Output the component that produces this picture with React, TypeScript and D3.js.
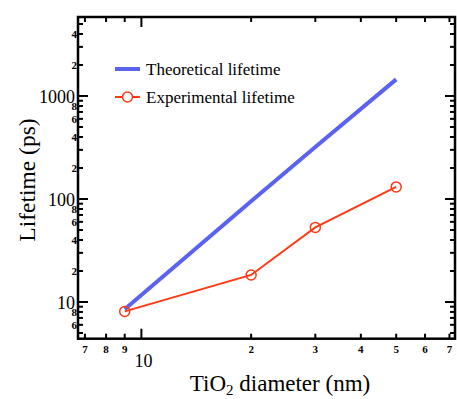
import { useEffect, useRef } from 'react'
import * as d3 from 'd3'

// diameter (nm)
const diameters = [9, 20, 30, 50]
const theoretical = [8.5, 95, 320, 1450]
const experimental = [8.1, 18.3, 53, 131]

const xMinorTicks = [7, 8, 9, 20, 30, 40, 50, 60, 70]
const xMajorTicks = [10]
const yMajorTicks = [10, 100, 1000]
const yMinorTicks = [5, 6, 7, 8, 9, 20, 30, 40, 50, 60, 70, 80, 90, 200, 300, 400, 500, 600, 700, 800, 900, 2000, 3000, 4000, 5000]
const yLabelled = [6, 8, 20, 40, 60, 80, 200, 400, 600, 800, 2000, 4000]

const seriesNames = ['Theoretical lifetime', 'Experimental lifetime']

const FONT = '"Liberation Serif", "Times New Roman", serif'

const LifetimeChart = () => {
  const svgRef = useRef<SVGSVGElement>(null)

  useEffect(() => {
    if (!svgRef.current) return
    d3.select(svgRef.current).selectAll('*').remove()
    const svg = d3.select(svgRef.current)

    const left = 78
    const right = 455
    const top = 17
    const bottom = 338.7

    const x = d3.scaleLog().domain([6.7, 72.5]).range([left, right])
    const y = d3.scaleLog().domain([4.4, 5850]).range([bottom, top])

    const blue = '#5a62f2'
    const red = '#ff3a14'

    // series
    const line = d3
      .line<number>()
      .x((_, i) => x(diameters[i]))
      .y((d) => y(d))

    svg
      .append('path')
      .attr('d', line(theoretical))
      .attr('fill', 'none')
      .attr('stroke', blue)
      .attr('stroke-width', 4)

    svg
      .append('path')
      .attr('d', line(experimental))
      .attr('fill', 'none')
      .attr('stroke', red)
      .attr('stroke-width', 2)

    svg
      .selectAll('.pt')
      .data(experimental)
      .enter()
      .append('circle')
      .attr('cx', (_, i) => x(diameters[i]))
      .attr('cy', (d) => y(d))
      .attr('r', 5)
      .attr('fill', 'none')
      .attr('stroke', red)
      .attr('stroke-width', 1.5)

    // frame
    svg
      .append('rect')
      .attr('x', left)
      .attr('y', top)
      .attr('width', right - left)
      .attr('height', bottom - top)
      .attr('fill', 'none')
      .attr('stroke', '#000')
      .attr('stroke-width', 2.5)

    const tickG = svg.append('g').attr('stroke', '#000').attr('stroke-width', 2)
    const xTick = (v: number, len: number) => {
      tickG.append('line').attr('x1', x(v)).attr('x2', x(v)).attr('y1', bottom).attr('y2', bottom - len)
      tickG.append('line').attr('x1', x(v)).attr('x2', x(v)).attr('y1', top).attr('y2', top + len)
    }
    const yTick = (v: number, len: number) => {
      tickG.append('line').attr('x1', left).attr('x2', left + len).attr('y1', y(v)).attr('y2', y(v))
      tickG.append('line').attr('x1', right).attr('x2', right - len).attr('y1', y(v)).attr('y2', y(v))
    }
    xMinorTicks.forEach((v) => xTick(v, 5))
    xMajorTicks.forEach((v) => xTick(v, 10))
    yMinorTicks.forEach((v) => yTick(v, 5))
    yMajorTicks.forEach((v) => yTick(v, 10))

    // tick labels
    const labels = svg.append('g').style('font-family', FONT).attr('fill', '#000')
    xMinorTicks.forEach((v) => {
      labels
        .append('text')
        .attr('x', x(v))
        .attr('y', 353)
        .attr('text-anchor', 'middle')
        .style('font-size', '11px')
        .style('font-weight', 'bold')
        .text(String(v).charAt(0))
    })
    xMajorTicks.forEach((v) => {
      labels
        .append('text')
        .attr('x', x(v) + 2)
        .attr('y', 367)
        .attr('text-anchor', 'middle')
        .style('font-size', '18px')
        .text(v)
    })
    yLabelled.forEach((v) => {
      labels
        .append('text')
        .attr('x', 77)
        .attr('y', y(v) + 4)
        .attr('text-anchor', 'end')
        .style('font-size', '11px')
        .style('font-weight', 'bold')
        .text(String(v).charAt(0))
    })
    yMajorTicks.forEach((v) => {
      labels
        .append('text')
        .attr('x', 75)
        .attr('y', y(v) + 7)
        .attr('text-anchor', 'end')
        .style('font-size', '18px')
        .text(v)
    })

    // axis titles
    labels
      .append('text')
      .attr('transform', 'translate(35,180) rotate(-90)')
      .attr('text-anchor', 'middle')
      .style('font-size', '23.5px')
      .text('Lifetime (ps)')

    const xt = labels
      .append('text')
      .attr('x', 280)
      .attr('y', 391)
      .attr('text-anchor', 'middle')
      .style('font-size', '23px')
    xt.append('tspan').text('TiO')
    xt.append('tspan').attr('dy', 4).style('font-size', '15px').text('2')
    xt.append('tspan').attr('dy', -4).text(' diameter (nm)')

    // legend
    const legend = svg.append('g').style('font-family', FONT)
    legend
      .append('line')
      .attr('x1', 115)
      .attr('x2', 140)
      .attr('y1', 69)
      .attr('y2', 69)
      .attr('stroke', blue)
      .attr('stroke-width', 4)
    legend
      .append('line')
      .attr('x1', 115)
      .attr('x2', 140)
      .attr('y1', 97)
      .attr('y2', 97)
      .attr('stroke', red)
      .attr('stroke-width', 2)
    legend
      .append('circle')
      .attr('cx', 127.5)
      .attr('cy', 97)
      .attr('r', 5)
      .attr('fill', '#fff')
      .attr('stroke', red)
      .attr('stroke-width', 1.5)
    seriesNames.forEach((name, i) => {
      legend
        .append('text')
        .attr('x', 146)
        .attr('y', 75 + i * 28)
        .style('font-size', '17px')
        .text(name)
    })
  }, [])

  return <svg ref={svgRef} width={457} height={399} style={{ display: 'block' }} />
}

export default function App() {
  return (
    <div style={{ position: 'absolute', left: 0, top: 0 }}>
      <LifetimeChart />
    </div>
  )
}
